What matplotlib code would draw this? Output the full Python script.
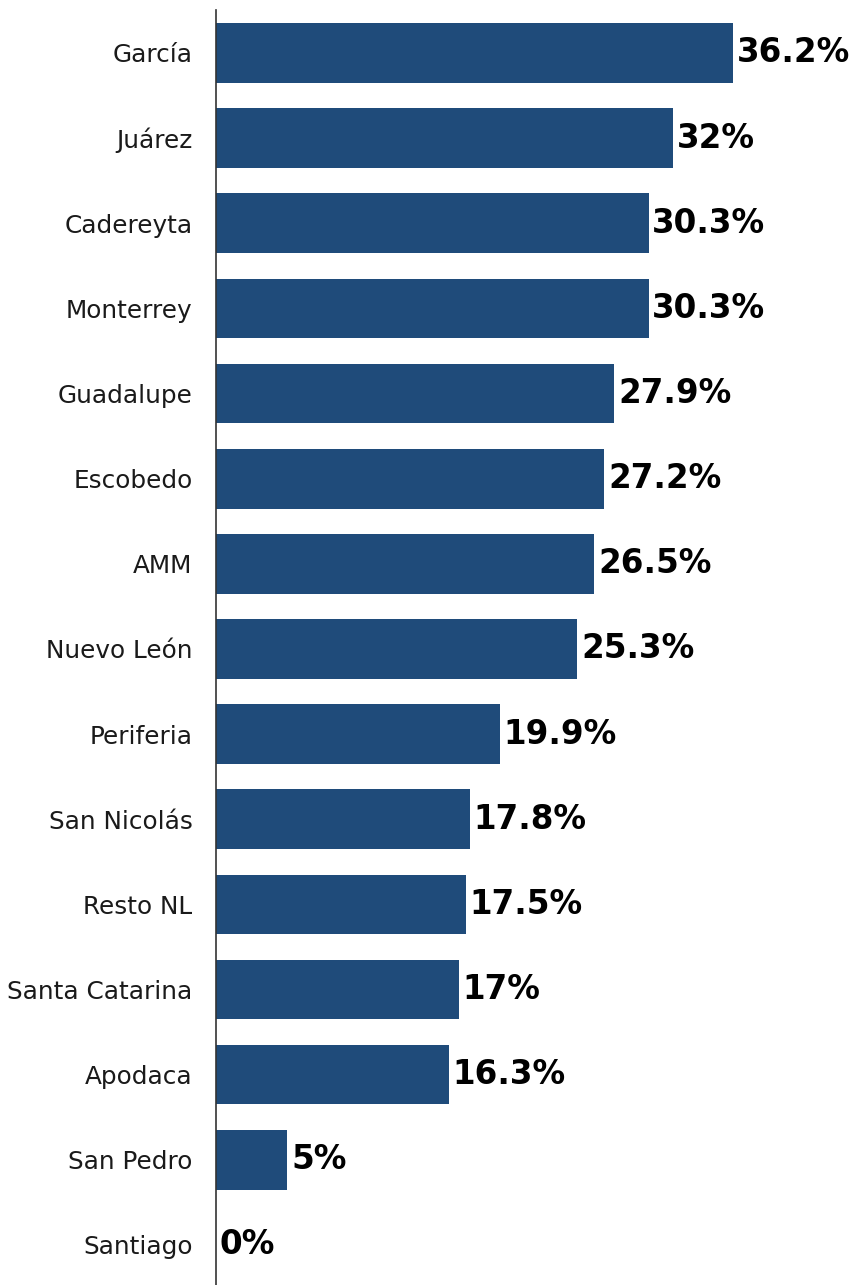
import matplotlib.pyplot as plt

# share of each municipality, in percent
municipios = [
    "García", "Juárez", "Cadereyta", "Monterrey", "Guadalupe", "Escobedo",
    "AMM", "Nuevo León", "Periferia", "San Nicolás", "Resto NL",
    "Santa Catarina", "Apodaca", "San Pedro", "Santiago",
]
valores = [36.2, 32, 30.3, 30.3, 27.9, 27.2, 26.5, 25.3, 19.9, 17.8, 17.5, 17, 16.3, 5, 0]
etiquetas = ["36.2%", "32%", "30.3%", "30.3%", "27.9%", "27.2%", "26.5%", "25.3%",
             "19.9%", "17.8%", "17.5%", "17%", "16.3%", "5%", "0%"]

color_barra = "#1f4b7a"

fig = plt.figure(figsize=(8.53, 12.85), dpi=100)
ax = fig.add_axes([216 / 853, 0, 637 / 853, 1275 / 1285])

pos = list(range(len(municipios)))
ax.barh(pos, valores, height=0.7, color=color_barra)

for y, v, txt in zip(pos, valores, etiquetas):
    ax.text(v + 0.25, y, txt, va="center", ha="left",
            fontsize=23.5, fontweight="bold", color="#000000")

ax.set_xlim(0, 44.6)
ax.set_ylim(14.47, -0.505)
ax.set_yticks(pos)
ax.set_yticklabels(municipios, fontsize=17.8, color="#1a1a1a")
ax.tick_params(axis="y", length=0, pad=17)
ax.set_xticks([])

for lado in ["top", "right", "bottom"]:
    ax.spines[lado].set_visible(False)
ax.spines["left"].set_color("#333333")
ax.spines["left"].set_linewidth(1.2)

fig.savefig("out.png", dpi=100)
